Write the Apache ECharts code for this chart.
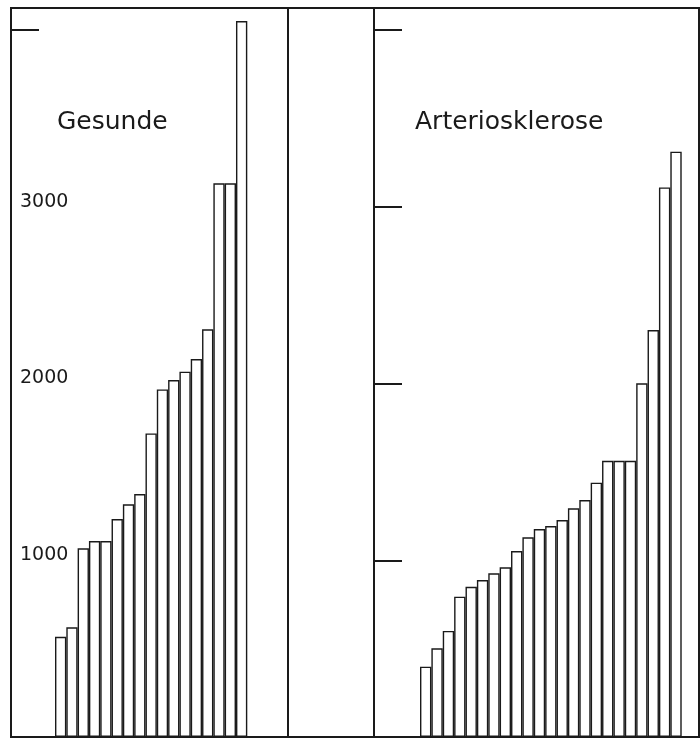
<!DOCTYPE html>
<html>
<head>
<meta charset="utf-8">
<script src="https://cdn.jsdelivr.net/npm/echarts@6/dist/echarts.min.js"></script>
<style>
  html, body { margin: 0; padding: 0; background: #ffffff; }
  #chart { width: 700px; height: 740px; }
</style>
</head>
<body>
<div id="chart"></div>
<script>
// Panel titles
const titleLeft = 'Gesunde';
const titleRight = 'Arteriosklerose';

// Categories (individual subjects, sorted)
const catsGesunde = ['1','2','3','4','5','6','7','8','9','10','11','12','13','14','15','16','17'];
const catsArterio = ['1','2','3','4','5','6','7','8','9','10','11','12','13','14','15','16','17','18','19','20','21','22','23'];

// Values
const valuesGesunde = [567, 621, 1068, 1109, 1109, 1233, 1317, 1375, 1718, 1967, 2020, 2067, 2139, 2307, 3133, 3133, 4051];
const valuesArterio = [398, 502, 600, 794, 850, 888, 926, 960, 1052, 1130, 1177, 1194, 1228, 1294, 1341, 1439, 1563, 1563, 1563, 2001, 2303, 3110, 3312];

// Axis ticks / labels
const tickLabelsLeft = [1000, 2000, 3000];
const tickMarksLeft = [4000];
const tickMarksRight = [1000, 2000, 3000, 4000];
const axisMax = 4125; // top of frame

const ink = '#1a1a1a';
const fontFamily = 'DejaVu Sans';

const chart = echarts.init(document.getElementById('chart'), null, { renderer: 'canvas' });

function valueAxis(gridIndex, offset, tickVals, labelVals) {
  return {
    type: 'value',
    gridIndex: gridIndex,
    min: 0,
    max: axisMax,
    interval: 1000,
    position: 'left',
    offset: offset,
    axisLine: { show: true, lineStyle: { color: ink, width: 2 } },
    axisTick: {
      show: true, inside: true, length: 28,
      customValues: tickVals,
      lineStyle: { color: ink, width: 2 }
    },
    axisLabel: labelVals ? {
      show: true, inside: true, margin: 9,
      customValues: labelVals,
      formatter: function (v) { return String(v); },
      color: ink, fontSize: 19, fontFamily: fontFamily,
      verticalAlign: 'bottom', lineHeight: 10
    } : { show: false },
    splitLine: { show: false }
  };
}

function catAxis(gridIndex, cats) {
  return {
    type: 'category',
    gridIndex: gridIndex,
    data: cats,
    axisLine: { show: true, lineStyle: { color: ink, width: 2 } },
    axisTick: { show: false },
    axisLabel: { show: false },
    splitLine: { show: false }
  };
}

const barStyle = { color: '#ffffff', borderColor: ink, borderWidth: 1.4 };

chart.setOption({
  backgroundColor: '#ffffff',
  animation: false,
  title: [
    { text: titleLeft, left: 57, top: 107, padding: 0,
      textStyle: { fontFamily: fontFamily, fontSize: 25, fontWeight: 'normal', color: ink, lineHeight: 30 } },
    { text: titleRight, left: 415, top: 107, padding: 0,
      textStyle: { fontFamily: fontFamily, fontSize: 25, fontWeight: 'normal', color: ink, lineHeight: 30 } }
  ],
  grid: [
    { left: 55, right: 452.7, top: 8, bottom: 3 },
    { left: 420, right: 18.3, top: 8, bottom: 3 }
  ],
  xAxis: [catAxis(0, catsGesunde), catAxis(1, catsArterio)],
  yAxis: [
    valueAxis(0, 44, tickMarksLeft, tickLabelsLeft),
    valueAxis(1, 46, tickMarksRight, null)
  ],
  series: [
    { type: 'bar', xAxisIndex: 0, yAxisIndex: 0, data: valuesGesunde,
      barCategoryGap: '0%', itemStyle: barStyle, silent: true },
    { type: 'bar', xAxisIndex: 1, yAxisIndex: 1, data: valuesArterio,
      barCategoryGap: '0%', itemStyle: barStyle, silent: true }
  ],
  graphic: [
    { type: 'rect', silent: true, z: 10,
      shape: { x: 11, y: 8, width: 688, height: 729 },
      style: { fill: null, stroke: ink, lineWidth: 2 } },
    { type: 'line', silent: true, z: 10,
      shape: { x1: 288, y1: 8, x2: 288, y2: 737 },
      style: { stroke: ink, lineWidth: 2 } }
  ]
});
</script>
</body>
</html>
